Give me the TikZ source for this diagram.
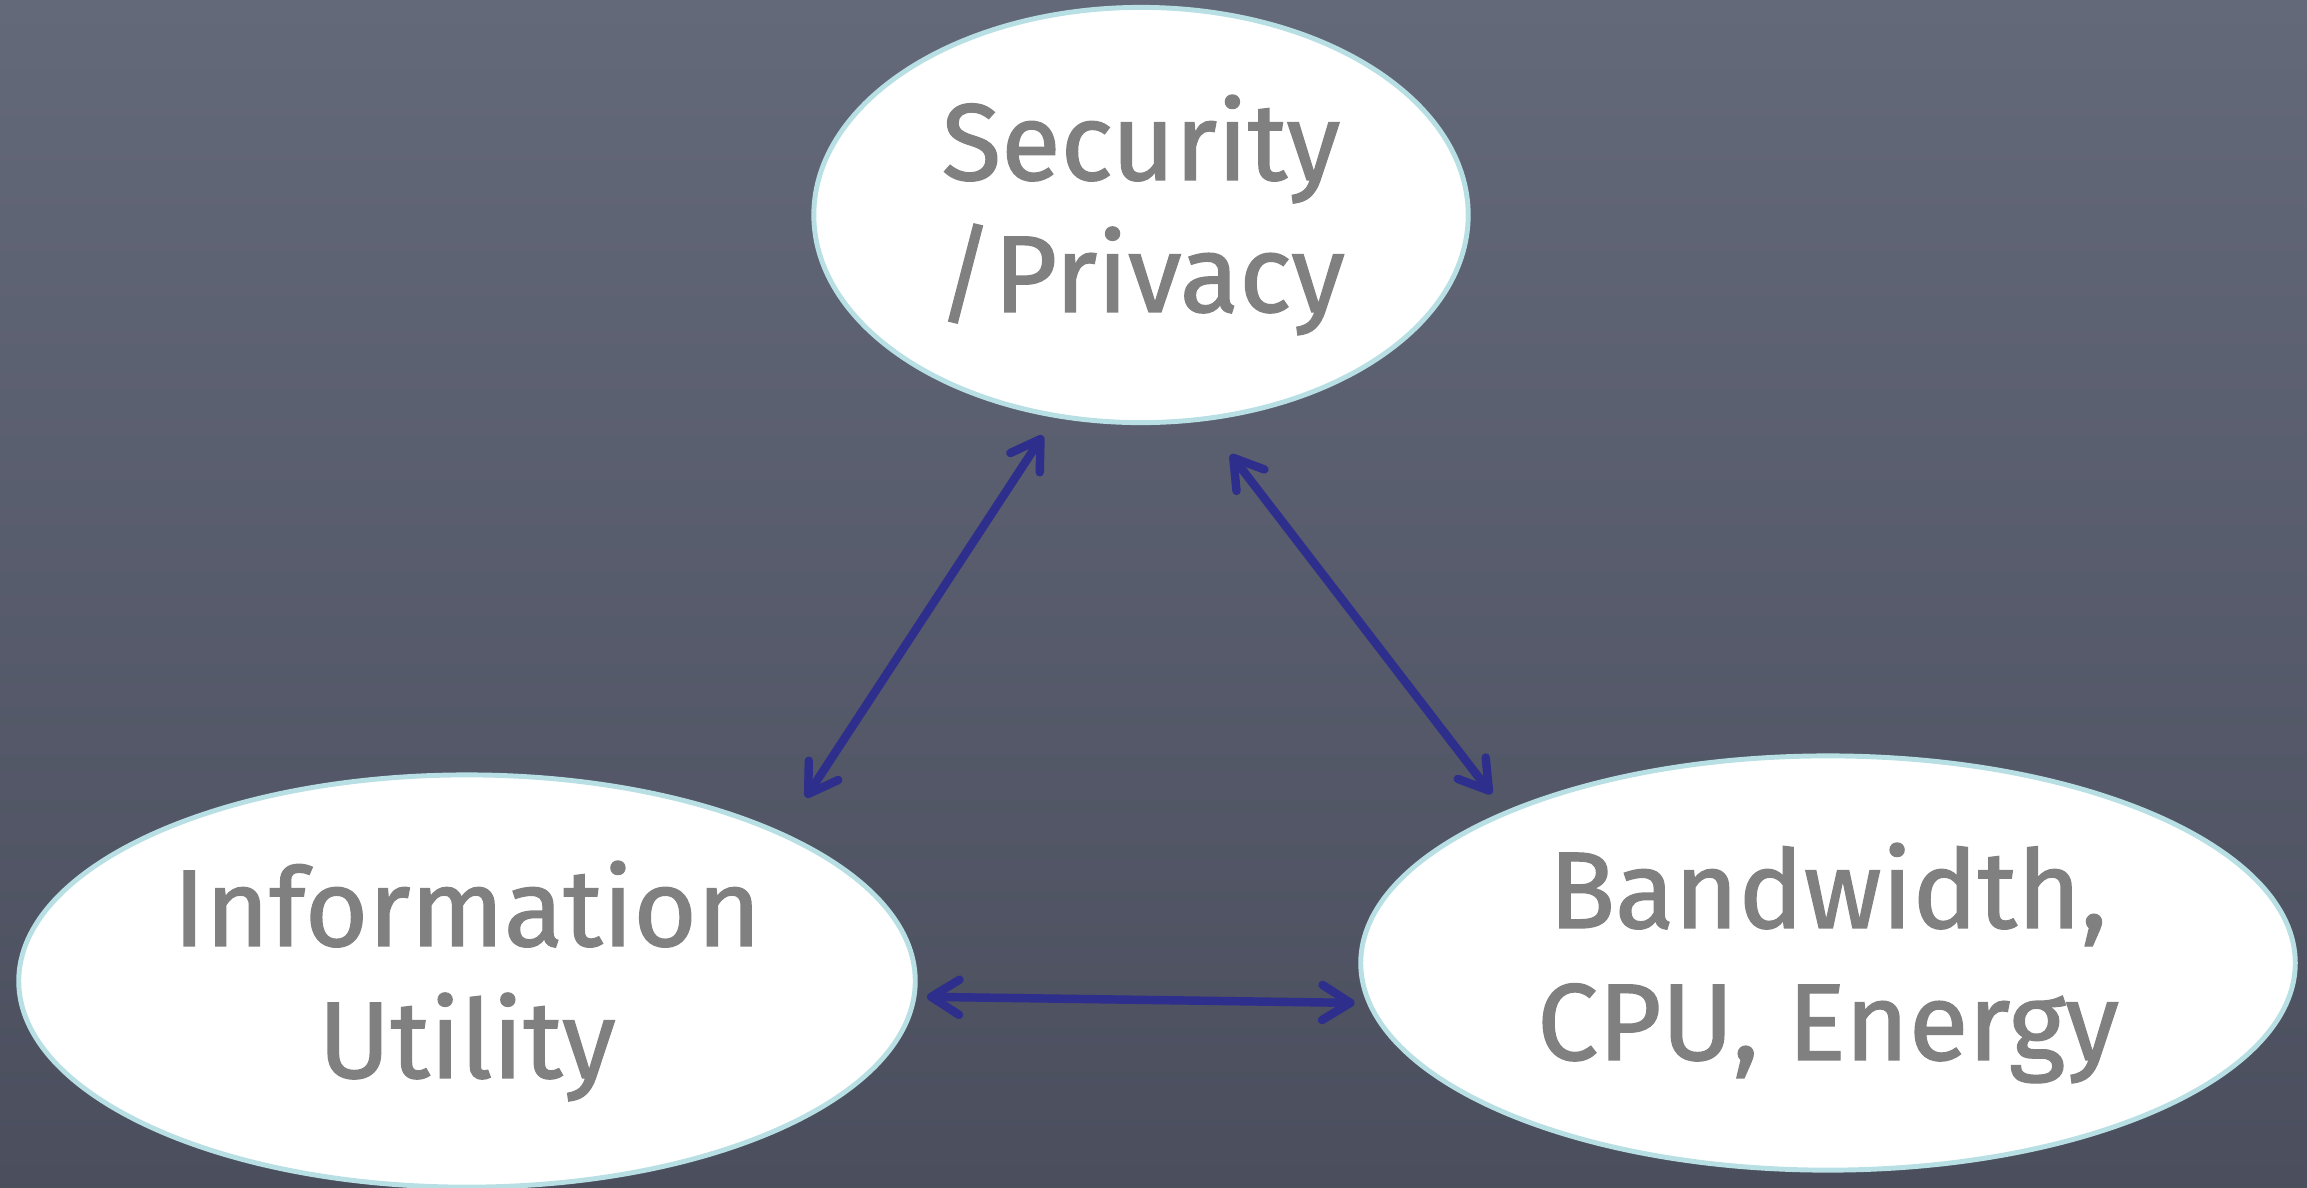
\documentclass[tikz,border=0pt]{standalone}
\usepackage{fontspec}
\newfontfamily\ovalfont[FakeBold=1.2]{Fira Sans}
\usetikzlibrary{shapes.geometric}
\usetikzlibrary{arrows.meta}
\def\arrowedge{2.4pt}
\def\ovaledge{1.4pt}
\definecolor{boardgrey}{RGB}{100,105,122}
\definecolor{boarddark}{RGB}{74,78,93}
\definecolor{ovalrim}{RGB}{184,224,228}
\definecolor{arrowblue}{RGB}{46,46,140}
\definecolor{textgrey}{RGB}{128,128,128}

\begin{document}
\begin{tikzpicture}[x = 0.01cm, y = -0.01cm,
    oval/.style={ellipse, draw=ovalrim, line width=\ovaledge, fill=white, inner sep=0pt, outer sep=0pt,
        align=center, text=textgrey, font=\ovalfont\fontsize{31}{37.5}\selectfont},
    tradeoff/.style={{Straight Barb[round,length=8pt,width=10pt]}-{Straight Barb[round,length=8pt,width=10pt]},
        line width=\arrowedge, color=arrowblue, line cap=round}]

        \shade [top color=boardgrey, bottom color=boarddark] (0,0) rectangle (2307,1187);
        \useasboundingbox (0,0) rectangle (2307,1187);

            \node [oval, minimum width=6.54cm, minimum height=4.15cm] (sec) at (1141,215) {Security\\/Privacy};
            \node [oval, minimum width=8.96cm, minimum height=4.12cm] (info) at (467,981) {Information\\Utility};
            \node [oval, minimum width=9.34cm, minimum height=4.14cm] (bw) at (1828,963) {Bandwidth,\\CPU, Energy};

        \draw [tradeoff, shorten <=0.24cm, shorten >=0.44cm] (sec.247.7) -- (info.25.6);
        \draw [tradeoff, shorten <=0.45cm, shorten >=0.24cm] (sec.287.7) -- (bw.155.7);
        \draw [tradeoff, shorten <=0.13cm, shorten >=0.15cm] (info.358.1) -- (bw.185.7);

        \end{tikzpicture}
\end{document}
